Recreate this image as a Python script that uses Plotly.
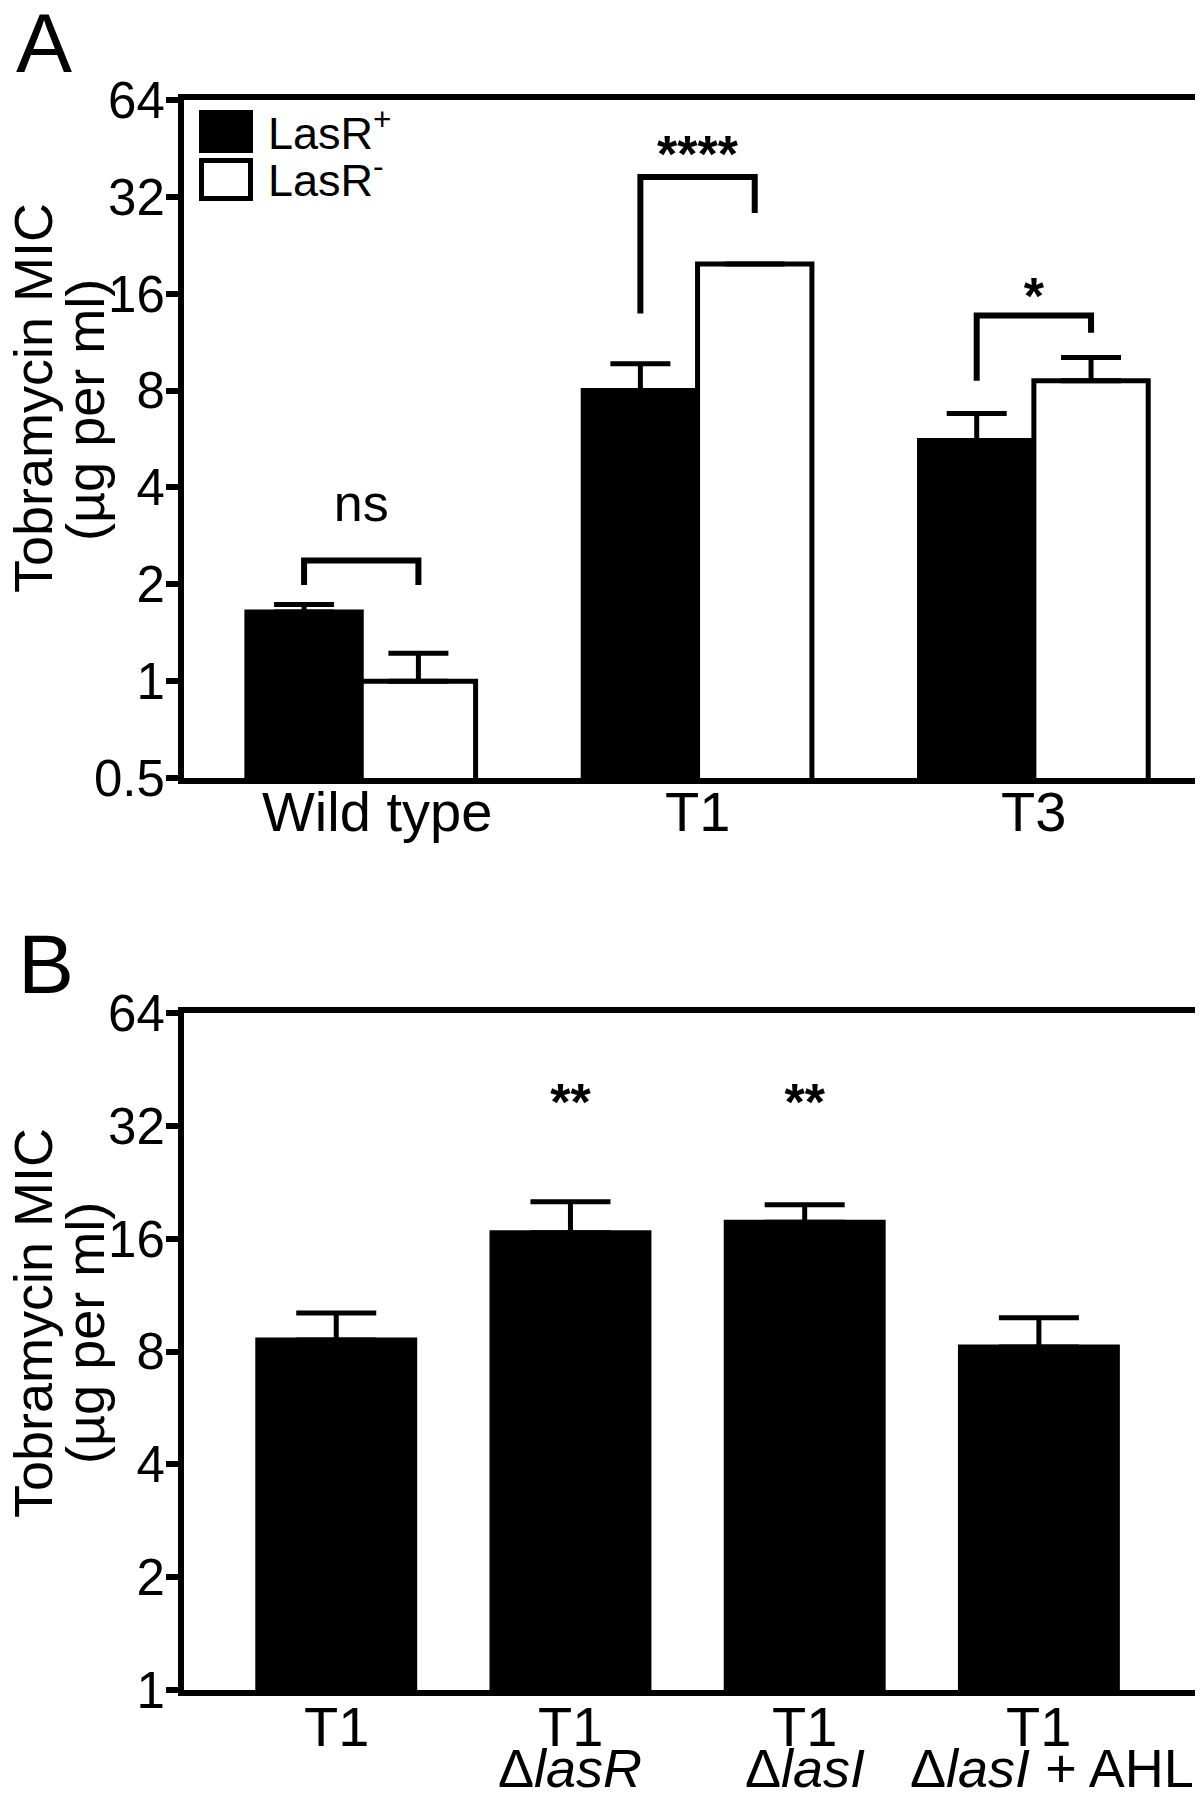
import plotly.graph_objects as go
import math

# page body has an 8px margin: figure is sized/offset to fill the 1203x1807 window
PAGE_W, PAGE_H = 1203, 1807
OFF = 8
FW, FH = PAGE_W - OFF, PAGE_H - 2 * OFF
FONT = "Arial, Liberation Sans, sans-serif"


def px(p):
    return (p - OFF) / FW


def py(p):
    return 1 - (p - OFF) / FH


# ---------------- data: panel A ----------------
a_categories = ["Wild type", "T1", "T3"]
a_lasr_pos = [1.64, 8.0, 5.6]
a_lasr_pos_err = [0.09, 1.7, 1.19]
a_lasr_neg = [1.0, 19.8, 8.59]
a_lasr_neg_err = [0.22, 0.0, 1.54]
a_yticks = [0.5, 1, 2, 4, 8, 16, 32, 64]
a_yticktext = ["0.5", "1", "2", "4", "8", "16", "32", "64"]

# significance brackets
sig_groups = [0, 1, 2]
sig_left_bottom = [1.99, 13.9, 8.59]
sig_right_bottom = [1.99, 28.5, 12.1]
sig_top = [2.37, 36.9, 13.7]
sig_labels = ["ns", "<b>****</b>", "<b>*</b>"]
sig_label_y = [3.45, 42.0, 15.2]

# ---------------- data: panel B ----------------
b_line1 = ["T1", "T1", "T1", "T1"]
b_line2 = ["", "Δ<i>lasR</i>", "Δ<i>lasI</i>", "Δ<i>lasI</i> + AHL"]
b_values = [8.59, 16.6, 17.7, 8.23]
b_err = [1.55, 3.46, 2.0, 1.61]
b_sig_x = [1, 2]
b_sig = ["<b>**</b>", "<b>**</b>"]
b_sig_y = [36.0, 36.0]
b_yticks = [1, 2, 4, 8, 16, 32, 64]
b_yticktext = ["1", "2", "4", "8", "16", "32", "64"]

a_x = list(range(len(a_categories)))
b_x = list(range(len(b_line1)))
HALF = 0.34

# small horizontal nudges of label text (px), as in the original layout
a_label_nudge = {0: 16}
b_line2_nudge = {3: 13}

fig = go.Figure()

# Panel A bars
fig.add_trace(go.Bar(
    x=a_x, y=a_lasr_pos, width=HALF, offset=-HALF,
    marker=dict(color="black", line=dict(color="black", width=5)),
    error_y=dict(type="data", array=a_lasr_pos_err, arrayminus=[0] * 3, symmetric=False,
                 color="black", thickness=5, width=30),
    xaxis="x", yaxis="y", showlegend=False))
fig.add_trace(go.Bar(
    x=a_x, y=a_lasr_neg, width=HALF, offset=0,
    marker=dict(color="white", line=dict(color="black", width=5)),
    error_y=dict(type="data", array=a_lasr_neg_err, arrayminus=[0] * 3, symmetric=False,
                 color="black", thickness=5, width=30),
    xaxis="x", yaxis="y", showlegend=False))

# brackets
for g, lb, rb, top in zip(sig_groups, sig_left_bottom, sig_right_bottom, sig_top):
    xl, xr = g - HALF / 2, g + HALF / 2
    fig.add_trace(go.Scatter(
        x=[xl, xl, xr, xr], y=[lb, top, top, rb], mode="lines",
        line=dict(color="black", width=6), xaxis="x", yaxis="y",
        showlegend=False, hoverinfo="skip"))

fig.add_trace(go.Scatter(
    x=sig_groups, y=sig_label_y, mode="text", text=sig_labels,
    textposition="middle center",
    textfont=dict(family=FONT, size=52, color="black"),
    xaxis="x", yaxis="y", showlegend=False, hoverinfo="skip"))

# Panel B bars
fig.add_trace(go.Bar(
    x=b_x, y=b_values, width=0.67,
    marker=dict(color="black", line=dict(color="black", width=5)),
    error_y=dict(type="data", array=b_err, arrayminus=[0] * 4, symmetric=False,
                 color="black", thickness=5, width=40),
    xaxis="x2", yaxis="y2", showlegend=False))
fig.add_trace(go.Scatter(
    x=b_sig_x, y=b_sig_y, mode="text", text=b_sig,
    textposition="middle center", textfont=dict(family=FONT, size=52, color="black"),
    xaxis="x2", yaxis="y2", showlegend=False, hoverinfo="skip"))

axis_common = dict(showline=True, linecolor="black", linewidth=6, mirror=True,
                   showgrid=False, zeroline=False, automargin=False)

fig.update_layout(
    width=FW, height=FH,
    margin=dict(l=0, r=0, t=0, b=0),
    paper_bgcolor="white", plot_bgcolor="white",
    font=dict(family=FONT, color="black"),
    barmode="overlay",
    xaxis=dict(domain=[px(184), px(1198)], range=[-0.527, 2.488],
               tickvals=a_x, showticklabels=False, ticks="", **axis_common),
    yaxis=dict(domain=[py(778), py(100)], type="log",
               range=[math.log10(0.5), math.log10(64)],
               tickvals=a_yticks, ticktext=a_yticktext, ticks="outside",
               ticklen=12, tickwidth=6, tickcolor="black",
               tickfont=dict(size=51, family=FONT, color="black"),
               ticklabelstandoff=-9, **axis_common),
    xaxis2=dict(domain=[px(184), px(1197)], range=[-0.65, 3.675], anchor="y2",
                tickvals=b_x, showticklabels=False, ticks="", **axis_common),
    yaxis2=dict(domain=[py(1690), py(1013)], type="log", anchor="x2",
                range=[0, math.log10(64)],
                tickvals=b_yticks, ticktext=b_yticktext, ticks="outside",
                ticklen=12, tickwidth=6, tickcolor="black",
                tickfont=dict(size=51, family=FONT, color="black"),
                ticklabelstandoff=-9, **axis_common),
)

annotations = []
# panel letters
annotations.append(dict(text="A", x=px(14), y=py(43), xref="paper", yref="paper",
                        xanchor="left", yanchor="middle", showarrow=False,
                        font=dict(size=84, family=FONT, color="black")))
annotations.append(dict(text="B", x=px(16), y=py(964), xref="paper", yref="paper",
                        xanchor="left", yanchor="middle", showarrow=False,
                        font=dict(size=84, family=FONT, color="black")))
# y titles
for cy1, cy2 in [(398, 410), (1323, 1333)]:
    annotations.append(dict(text="Tobramycin MIC", x=px(33), y=py(cy1),
                            xref="paper", yref="paper", xanchor="center", yanchor="middle",
                            textangle=-90, showarrow=False,
                            font=dict(size=54, family=FONT, color="black")))
    annotations.append(dict(text="(µg per ml)", x=px(85), y=py(cy2),
                            xref="paper", yref="paper", xanchor="center", yanchor="middle",
                            textangle=-90, showarrow=False,
                            font=dict(size=54, family=FONT, color="black")))
# panel A category labels
for xv, t in zip(a_x, a_categories):
    annotations.append(dict(text=t, x=xv, y=py(778), xref="x", yref="paper",
                            xanchor="center", yanchor="top", showarrow=False,
                            xshift=a_label_nudge.get(xv, 0),
                            font=dict(size=56, family=FONT, color="black")))
# panel B two-line labels
for xv, t1, t2 in zip(b_x, b_line1, b_line2):
    annotations.append(dict(text=t1, x=xv, y=py(1693), xref="x2", yref="paper",
                            xanchor="center", yanchor="top", showarrow=False,
                            font=dict(size=56, family=FONT, color="black")))
    if t2:
        annotations.append(dict(text=t2, x=xv, y=py(1736), xref="x2", yref="paper",
                                xanchor="center", yanchor="top", showarrow=False,
                                xshift=b_line2_nudge.get(xv, 0),
                                font=dict(size=54, family=FONT, color="black")))
# legend text
annotations.append(dict(text="LasR<sup>+</sup>", x=px(266), y=py(130), xref="paper",
                        yref="paper", xanchor="left", yanchor="middle", showarrow=False,
                        font=dict(size=45, family=FONT, color="black")))
annotations.append(dict(text="LasR<sup>-</sup>", x=px(266), y=py(177), xref="paper",
                        yref="paper", xanchor="left", yanchor="middle", showarrow=False,
                        font=dict(size=45, family=FONT, color="black")))
fig.update_layout(annotations=annotations)

# legend swatches
fig.add_shape(type="rect", xref="paper", yref="paper",
              x0=px(199), x1=px(253), y0=py(153), y1=py(110),
              fillcolor="black", line=dict(color="black", width=0))
fig.add_shape(type="rect", xref="paper", yref="paper",
              x0=px(201.5), x1=px(250.5), y0=py(198.5), y1=py(160.5),
              fillcolor="white", line=dict(color="black", width=5))

fig.write_html("out.html")
